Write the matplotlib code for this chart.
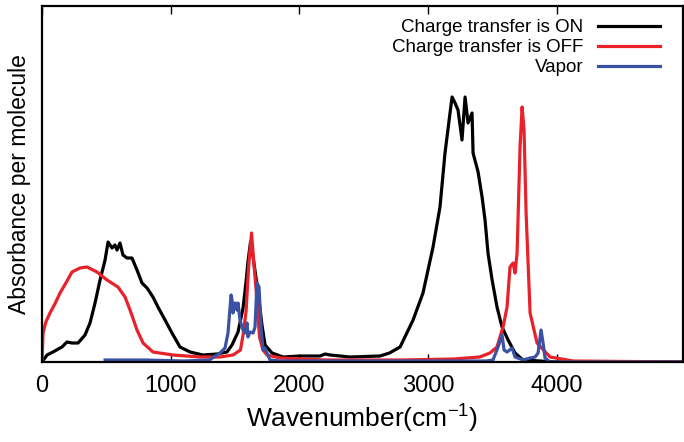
import matplotlib
matplotlib.use("Agg")
import matplotlib.pyplot as plt

# Charge transfer is ON
on_x = [0, 39, 85, 155, 194, 233, 280, 334, 373, 412, 451, 490, 513, 544, 567, 583, 606, 629, 660,
        699, 738, 777, 816, 862, 901, 956, 1010, 1072, 1150, 1251, 1360, 1437, 1476, 1523, 1562,
        1585, 1600, 1620, 1640, 1678, 1709, 1733, 1787, 1873, 2005, 2160, 2200, 2238, 2393, 2626,
        2700, 2782, 2883, 2960, 3038, 3092, 3131, 3170, 3186, 3209, 3232, 3263, 3287, 3310, 3341,
        3349, 3388, 3419, 3442, 3465, 3497, 3535, 3574, 3621, 3675, 3737, 3869, 4000, 5000]
on_y = [0, 7, 10, 15, 20, 19, 19, 27, 39, 59, 82, 102, 120, 114, 117, 112, 119, 107, 104,
        104, 92, 79, 74, 65, 55, 42, 29, 15, 10, 7, 8, 10, 17, 30, 54,
        80, 100, 120, 105, 70, 37, 17, 9, 5, 6, 6, 8, 7, 5, 6,
        9, 15, 42, 69, 115, 155, 209, 249, 265, 259, 252, 222, 265, 239, 249,
        209, 190, 165, 142, 109, 82, 55, 35, 22, 9, 2, 1, 0, 0]

# Charge transfer is OFF
off_x = [0, 8, 30, 62, 100, 140, 190, 233, 295, 350, 427, 505, 590, 645, 684, 738, 785, 862,
         1018, 1228, 1383, 1484, 1542, 1562, 1585, 1605, 1628, 1645, 1665, 1690, 1717, 1748, 1850,
         2200, 2800, 3200, 3400, 3480, 3535, 3582, 3613, 3636, 3660, 3675, 3691, 3714, 3730, 3745,
         3761, 3792, 3846, 3947, 4126, 5000]
off_y = [0, 29, 40, 49, 58, 69, 80, 90, 94, 95, 90, 82, 75, 65, 52, 32, 19, 10,
         7, 5, 5, 7, 12, 27, 50, 95, 129, 100, 70, 25, 12, 7, 4,
         2, 2, 3, 5, 9, 15, 35, 55, 95, 99, 89, 109, 215, 255, 232,
         149, 49, 19, 5, 1, 0]

# Vapor
vap_x = [490, 800, 1100, 1300, 1383, 1422, 1445, 1469, 1476, 1484, 1500, 1515, 1523, 1538, 1562,
         1577, 1593, 1600, 1616, 1640, 1655, 1670, 1686, 1702, 1717, 1733, 1748, 1772, 1850, 2500,
         3200, 3450, 3504, 3543, 3574, 3590, 3613, 3652, 3675, 3737, 3792, 3831, 3854, 3877, 3893,
         3908, 3947, 4500, 5000]
vap_y = [2, 2, 1, 2, 9, 14, 29, 67, 62, 49, 59, 52, 59, 42, 32,
         29, 39, 25, 30, 29, 35, 79, 75, 35, 12, 14, 9, 2, 1, 1,
         1, 1, 2, 15, 27, 12, 10, 14, 5, 2, 4, 5, 9, 32, 19,
         4, 0, 0, 0]

x_ticks = [0, 1000, 2000, 3000, 4000]

plt.rcParams['font.family'] = ['Liberation Sans', 'DejaVu Sans']

fig = plt.figure(figsize=(6.84, 4.42), dpi=100)
ax = fig.add_axes([42 / 684, 1 - 362 / 442, 641 / 684, 356 / 442])

lw = 2.3
ax.plot(on_x, on_y, color='black', lw=lw, label='Charge transfer is ON')
ax.plot(off_x, off_y, color='#e8212a', lw=lw, label='Charge transfer is OFF')
ax.plot(vap_x, vap_y, color='#3a52a4', lw=lw, label='Vapor')

ax.set_xlim(0, 4980)
ax.set_ylim(0, 356)
ax.set_xticks(x_ticks)
ax.set_xticklabels([str(t) for t in x_ticks])
ax.set_yticks([])
ax.tick_params(axis='x', direction='in', length=6, width=1, top=True, labelsize=17, pad=9)
for s in ax.spines.values():
    s.set_linewidth(1.6)

ax.set_xlabel('Wavenumber(cm$^{\\mathregular{-1}}$)', fontsize=19, labelpad=3)
ax.set_ylabel('Absorbance per molecule', fontsize=16.5, labelpad=8)

leg = ax.legend(loc='upper right', frameon=False, markerfirst=False, fontsize=13.5,
                handlelength=3.3, handletextpad=0.8, labelspacing=0.15,
                borderaxespad=0.3, bbox_to_anchor=(0.985, 1.0))
leg._legend_box.align = 'right'

fig.savefig('out.png', dpi=100)
